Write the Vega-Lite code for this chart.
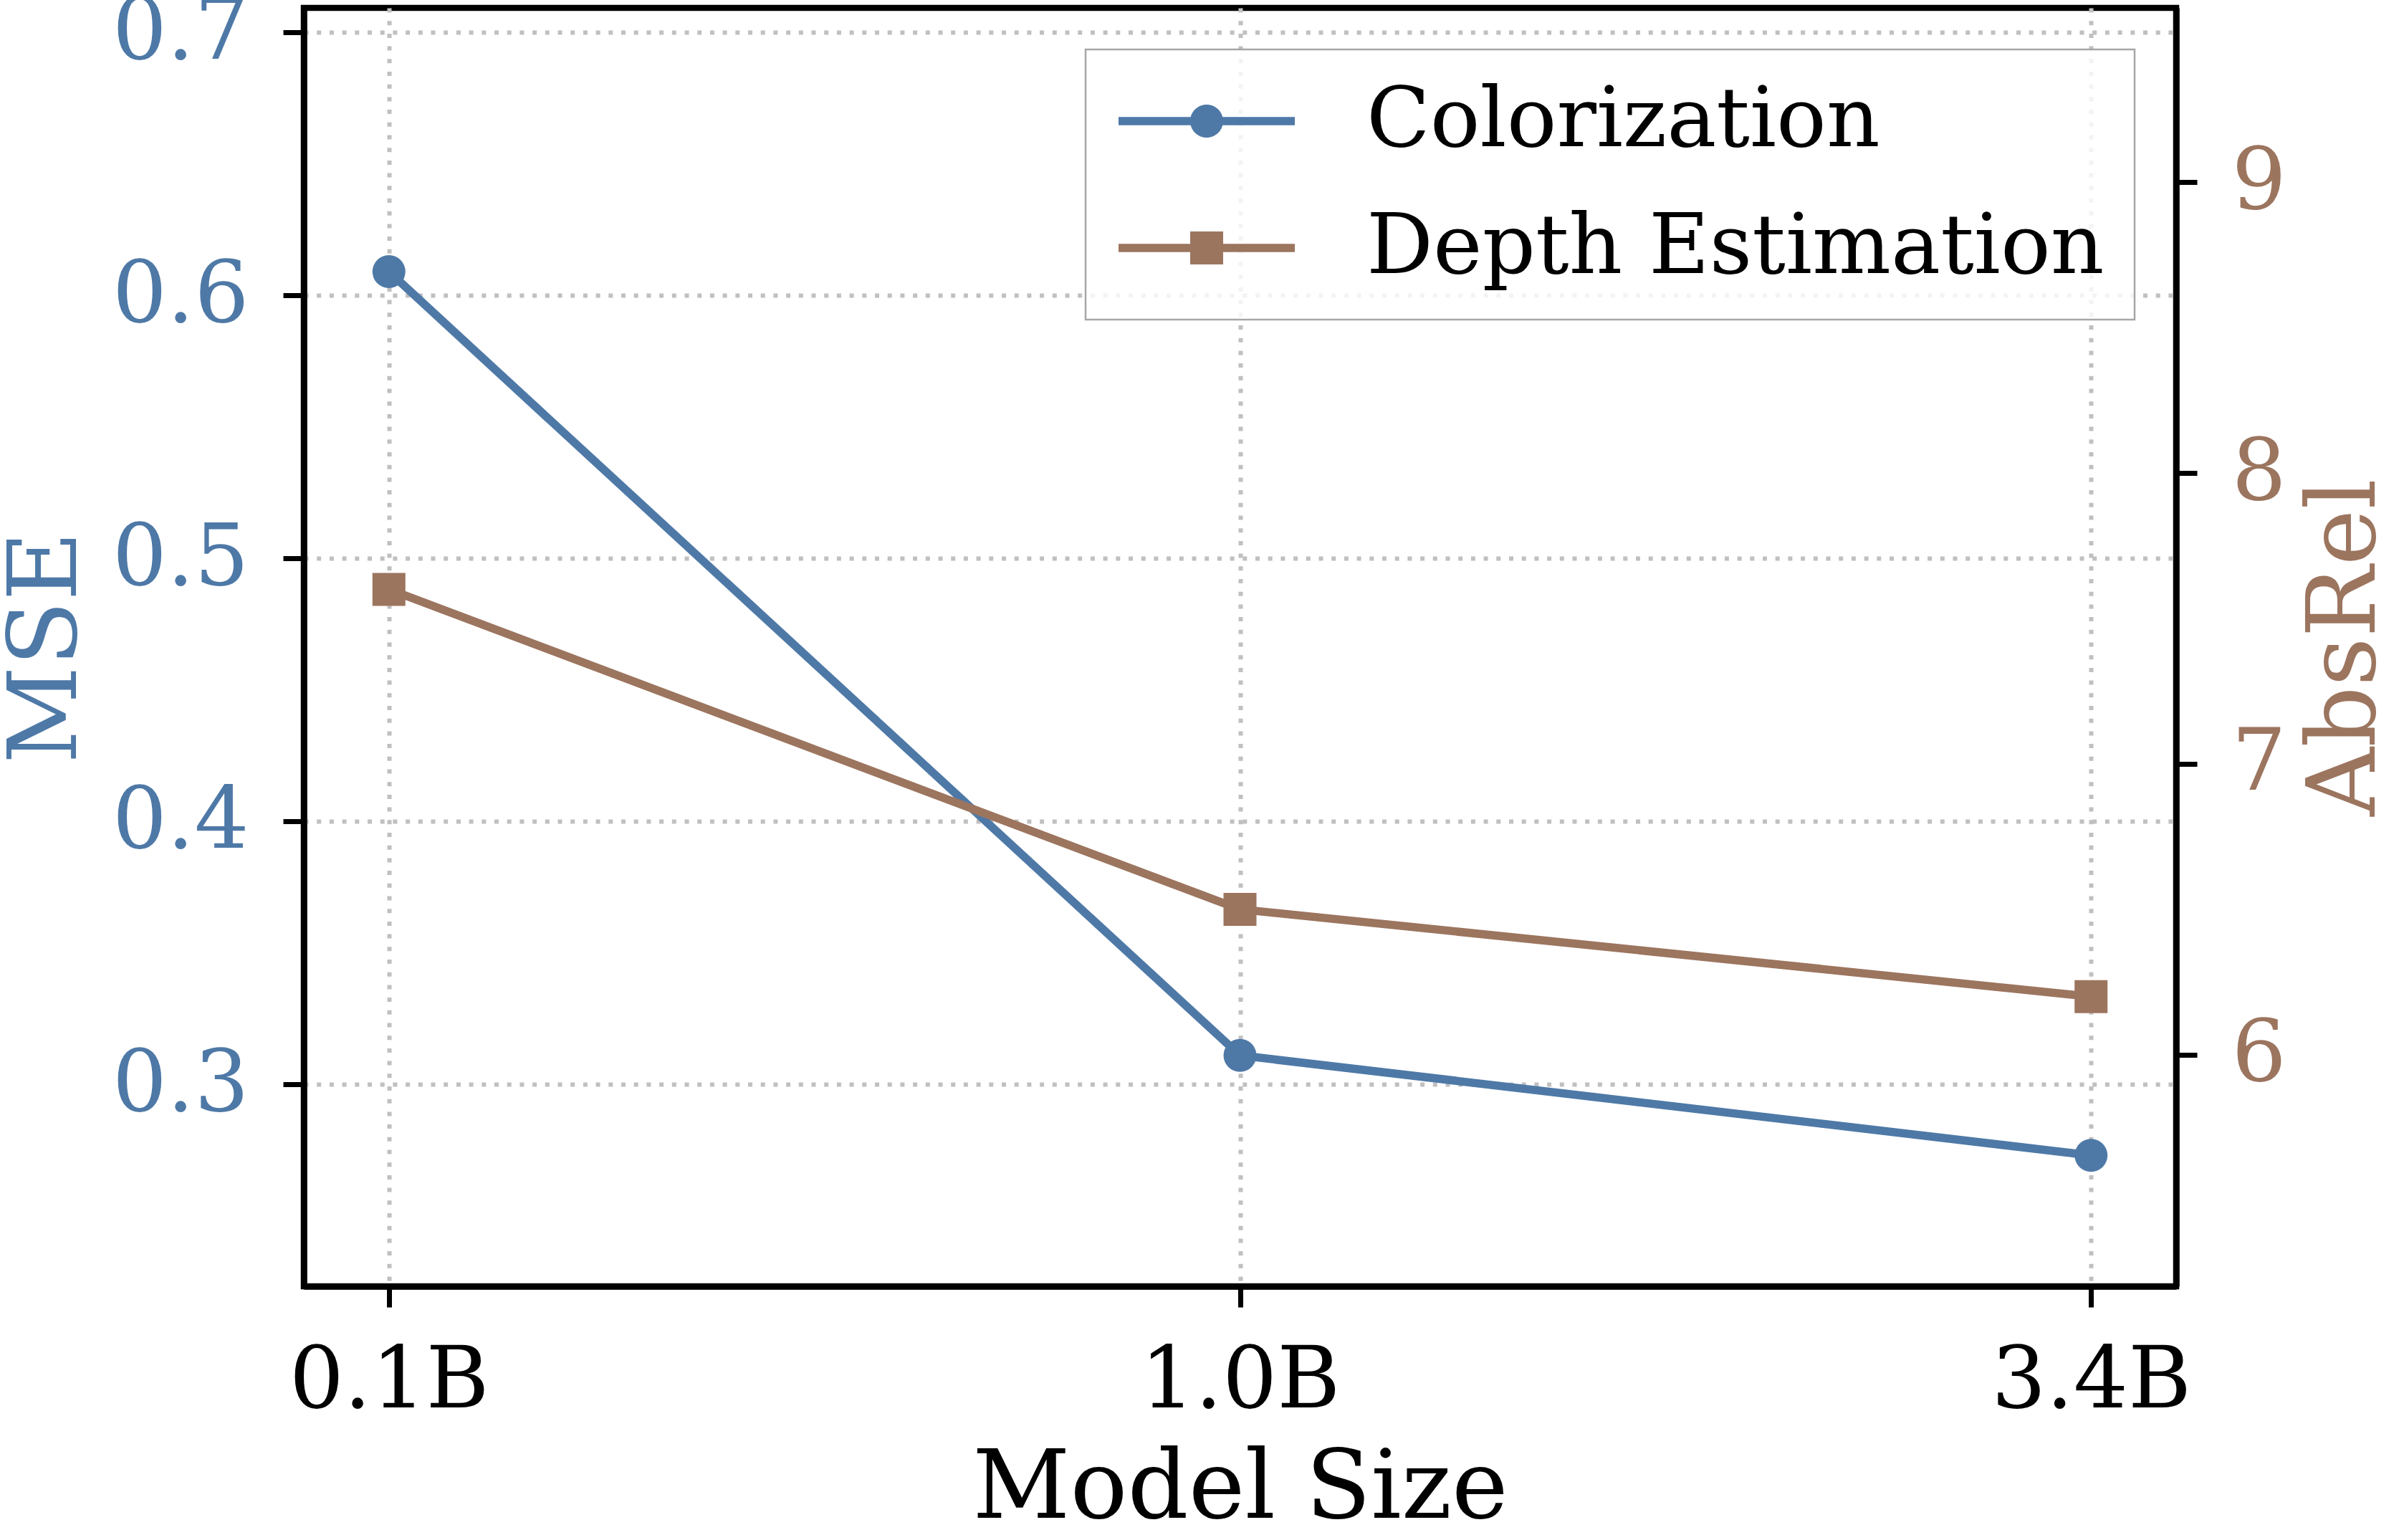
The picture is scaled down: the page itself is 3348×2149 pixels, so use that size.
{
  "$schema": "https://vega.github.io/schema/vega-lite/v6.json",
  "width": 2613,
  "height": 1784,
  "autosize": {"type": "none"},
  "padding": {"left": 424, "top": 11, "right": 311, "bottom": 354},
  "background": "white",
  "data": {
    "values": [
      {"size": "0.1B", "task": "Colorization", "value": 0.609},
      {"size": "1.0B", "task": "Colorization", "value": 0.311},
      {"size": "3.4B", "task": "Colorization", "value": 0.273},
      {"size": "0.1B", "task": "Depth Estimation", "value": 7.6},
      {"size": "1.0B", "task": "Depth Estimation", "value": 6.5},
      {"size": "3.4B", "task": "Depth Estimation", "value": 6.2}
    ]
  },
  "encoding": {
    "x": {
      "field": "size",
      "type": "ordinal",
      "sort": ["0.1B", "1.0B", "3.4B"],
      "scale": {"type": "point", "padding": 0.1},
      "axis": {
        "title": "Model Size",
        "labelAngle": 0,
        "grid": true,
        "labelColor": "black",
        "titleColor": "black",
        "labelPadding": 44,
        "titlePadding": 25
      }
    },
    "color": {
      "field": "task",
      "type": "nominal",
      "scale": {"domain": ["Colorization", "Depth Estimation"], "range": ["#4e79a7", "#9c755f"]},
      "legend": {
        "title": null,
        "orient": "top-right",
        "offset": 58,
        "padding": 42,
        "fillColor": "rgba(255,255,255,0.8)",
        "strokeColor": "#a6a6a6",
        "symbolSize": 11664,
        "symbolStrokeWidth": 0,
        "symbolOffset": 69,
        "labelFont": "DejaVu Serif",
        "labelFontSize": 116,
        "labelColor": "black",
        "labelOffset": 165,
        "labelLimit": 3000,
        "rowPadding": 61,
        "encode": {
          "legend": {"update": {"strokeWidth": {"value": 2.5}}},
          "symbols": {
            "update": {
              "shape": {"signal": "datum.value === 'Colorization' ? 'M-2.278,-0.1065H2.278V0.1065H-2.278ZM-0.426,0A0.426,0.426,0,1,1,0.426,0A0.426,0.426,0,1,1,-0.426,0Z' : 'M-2.278,-0.1065H2.278V0.1065H-2.278ZM-0.426,-0.426H0.426V0.426H-0.426Z'"},
              "fill": {"scale": "color", "field": "value"},
              "stroke": {"value": "transparent"},
              "strokeWidth": {"value": 0},
              "opacity": {"value": 1},
              "fillOpacity": {"value": 1}
            }
          }
        }
      }
    }
  },
  "layer": [
    {
      "transform": [{"filter": "datum.task === 'Colorization'"}],
      "encoding": {
        "y": {
          "field": "value",
          "type": "quantitative",
          "scale": {"domain": [0.2232, 0.7093], "zero": false, "nice": false},
          "axis": {
            "orient": "left",
            "title": "MSE",
            "values": [0.3, 0.4, 0.5, 0.6, 0.7],
            "format": ".1f",
            "grid": true,
            "labelColor": "#4e79a7",
            "titleColor": "#4e79a7",
            "titlePadding": 91
          }
        }
      },
      "layer": [
        {"mark": {"type": "line", "strokeWidth": 11.5}},
        {"mark": {"type": "point", "shape": "circle", "filled": true, "size": 2116, "opacity": 1}}
      ]
    },
    {
      "transform": [{"filter": "datum.task === 'Depth Estimation'"}],
      "encoding": {
        "y": {
          "field": "value",
          "type": "quantitative",
          "scale": {"domain": [5.204, 9.599], "zero": false, "nice": false},
          "axis": {
            "orient": "right",
            "title": "AbsRel",
            "values": [6, 7, 8, 9],
            "format": "d",
            "grid": false,
            "labelColor": "#9c755f",
            "titleColor": "#9c755f",
            "titleAngle": 270,
            "titleBaseline": "top",
            "titlePadding": 18
          }
        }
      },
      "layer": [
        {"mark": {"type": "line", "strokeWidth": 11.5}},
        {"mark": {"type": "point", "shape": "square", "filled": true, "size": 2116, "opacity": 1}}
      ]
    }
  ],
  "resolve": {"scale": {"y": "independent"}},
  "config": {
    "view": {"stroke": "black", "strokeWidth": 8.5},
    "axis": {
      "labelFont": "DejaVu Serif",
      "titleFont": "DejaVu Serif",
      "labelFontSize": 120,
      "titleFontSize": 133,
      "titleFontWeight": "normal",
      "labelLimit": 2000,
      "tickSize": 29,
      "tickWidth": 7,
      "tickColor": "black",
      "domain": true,
      "domainColor": "black",
      "domainWidth": 8.5,
      "gridColor": "#c0c0c0",
      "gridWidth": 6,
      "gridDash": [6, 11.7],
      "labelPadding": 48
    }
  }
}
